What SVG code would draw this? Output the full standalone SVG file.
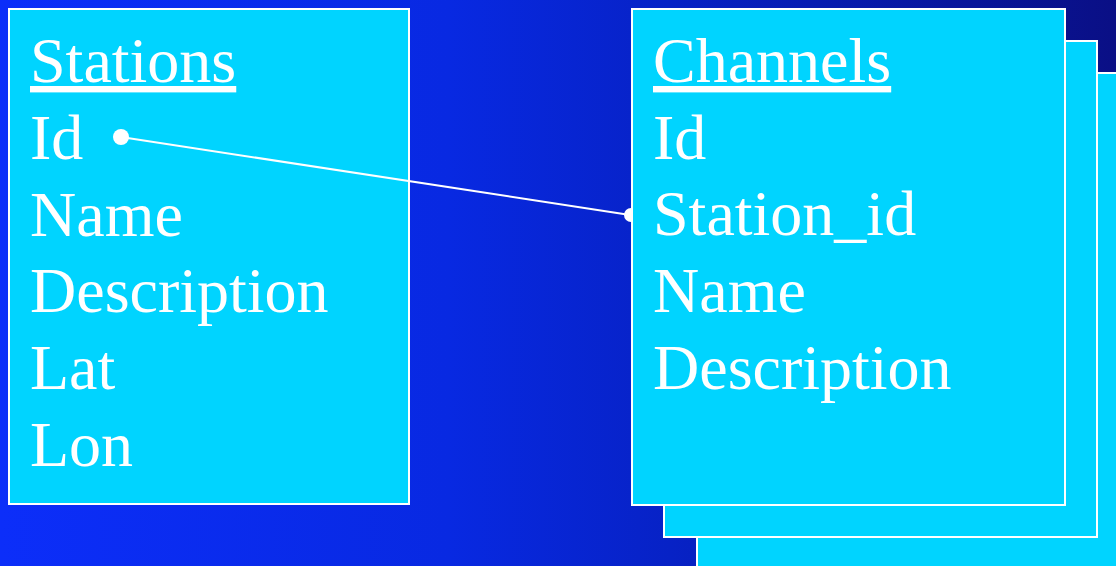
<svg xmlns="http://www.w3.org/2000/svg" width="1116" height="566" viewBox="0 0 1116 566">
  <defs>
    <linearGradient id="bg" x1="0" y1="0" x2="1" y2="0">
      <stop offset="0" stop-color="#0c2ef9"/>
      <stop offset="0.4" stop-color="#0829e2"/>
      <stop offset="0.6" stop-color="#0722c6"/>
      <stop offset="1" stop-color="#0a0f85"/>
    </linearGradient>
    <style>
      .box { fill: #00d4ff; stroke: #ffffff; stroke-width: 2; }
      .t { font-family: "Liberation Serif", "Times New Roman", serif; font-size: 64px; fill: #ffffff; }
      .title { text-decoration: underline; }
      .conn { stroke: #ffffff; stroke-width: 2; fill: none; }
      .dot { fill: #ffffff; }
    </style>
  </defs>
  <rect x="0" y="0" width="1116" height="566" fill="url(#bg)"/>

  <g id="stations">
    <rect class="box" x="9" y="9" width="400" height="495"/>
    <text class="t title" x="30" y="82">Stations</text>
    <text class="t" x="30" y="159">Id</text>
    <text class="t" x="30" y="236">Name</text>
    <text class="t" x="30" y="312">Description</text>
    <text class="t" x="30" y="389">Lat</text>
    <text class="t" x="30" y="466">Lon</text>
  </g>

  <g id="connectors">
    <line class="conn" x1="121" y1="137" x2="630" y2="215"/>
    <circle class="dot" cx="121" cy="137" r="8"/>
    <circle class="dot" cx="631" cy="215" r="7"/>
  </g>

  <g id="channels">
    <rect class="box" x="697" y="73" width="430" height="510"/>
    <rect class="box" x="664" y="41" width="433" height="496"/>
    <rect class="box" x="632" y="9" width="433" height="496"/>
    <text class="t title" x="653" y="82">Channels</text>
    <text class="t" x="653" y="159">Id</text>
    <text class="t" x="653" y="235">Station_id</text>
    <text class="t" x="653" y="312">Name</text>
    <text class="t" x="653" y="389">Description</text>
  </g>
</svg>
